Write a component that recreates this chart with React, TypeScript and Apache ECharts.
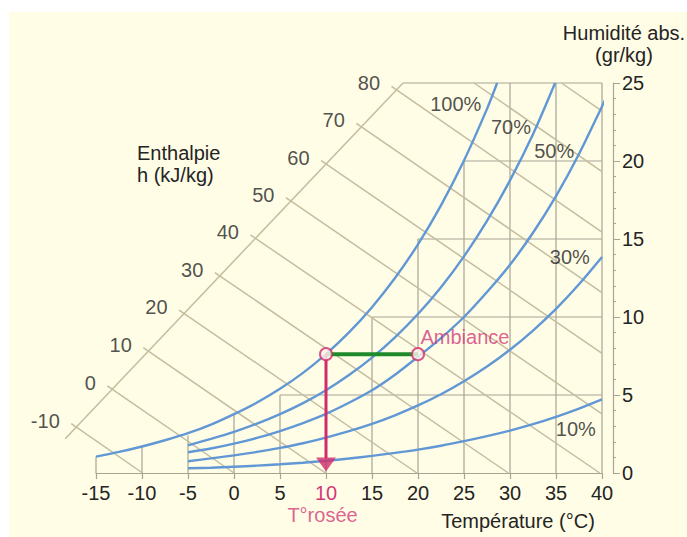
import React, { useEffect, useRef } from 'react';
import * as echarts from 'echarts';

const FONT = '"Liberation Sans", Arial, Helvetica, sans-serif';

// Temperature ticks (°C) and absolute humidity ticks (g/kg)
const tempTicks = [-15, -10, -5, 0, 5, 10, 15, 20, 25, 30, 35, 40];
const humTicks = [0, 5, 10, 15, 20, 25];

// Relative humidity curves, [temperature °C, absolute humidity g/kg]
const rh100: [number, number][] = [
  [-15, 1.05], [-12.5, 1.35], [-10, 1.7], [-7.5, 2.1], [-5, 2.55], [-2.5, 3.1], [0, 3.77],
  [2.5, 4.52], [5, 5.4], [7.5, 6.42], [10, 7.62], [12.5, 9.01], [15, 10.63], [17.5, 12.5],
  [20, 14.66], [22.5, 17.16], [25, 20.03], [27.5, 23.34], [28.6, 25],
];
const rh70: [number, number][] = [
  [-5, 1.77], [-2.5, 2.19], [0, 2.64], [2.5, 3.16], [5, 3.77], [7.5, 4.48], [10, 5.31],
  [12.5, 6.28], [15, 7.4], [17.5, 8.7], [20, 10.19], [22.5, 11.91], [25, 13.89], [27.5, 16.16],
  [30, 18.76], [32.5, 21.72], [34.9, 25],
];
const rh50: [number, number][] = [
  [-5, 1.33], [-2.5, 1.57], [0, 1.88], [2.5, 2.25], [5, 2.69], [7.5, 3.2], [10, 3.79],
  [12.5, 4.5], [15, 5.3], [17.5, 6.3], [20, 7.45], [22.5, 8.65], [25, 10.0], [27.5, 11.6],
  [30, 13.35], [32.5, 15.4], [35, 17.75], [37.5, 20.45], [40, 23.5], [40.4, 24.0],
];
const rh30: [number, number][] = [
  [-5, 0.75], [-2.5, 0.94], [0, 1.13], [2.5, 1.35], [5, 1.61], [7.5, 1.91], [10, 2.27],
  [12.5, 2.68], [15, 3.15], [17.5, 3.7], [20, 4.33], [22.5, 5.05], [25, 5.88], [27.5, 6.82],
  [30, 7.9], [32.5, 9.13], [35, 10.52], [37.5, 12.1], [40, 13.85],
];
const rh10: [number, number][] = [
  [-5, 0.3], [-2.5, 0.34], [0, 0.4], [2.5, 0.47], [5, 0.56], [7.5, 0.66], [10, 0.78],
  [12.5, 0.93], [15, 1.1], [17.5, 1.29], [20, 1.5], [22.5, 1.75], [25, 2.04], [27.5, 2.36],
  [30, 2.72], [32.5, 3.13], [35, 3.6], [37.5, 4.13], [40, 4.72],
];

// Curve labels
const rhNames = ['100%', '70%', '50%', '30%', '10%'];
const rhLabelT = [24.1, 30.1, 34.8, 36.5, 37.15];
const rhLabelW = [23.65, 22.2, 20.65, 13.87, 2.81];

// Enthalpy lines (kJ/kg)
const enthH = [-10, 0, 10, 20, 30, 40, 50, 60, 70, 80, 90, 100];
const enthStartT = [-17.69, -13.77, -9.86, -5.97, -2.08, 1.79, 5.64, 9.47, 13.3, 17.12, 26.1, 35.6];
const enthStartW = [3.16, 5.59, 8.03, 10.44, 12.85, 15.26, 17.65, 20.03, 22.41, 24.78, 25, 25];
const enthEndT = [-9.94, 0, 9.94, 19.88, 29.82, 39.76, 40, 40, 40, 40, 40, 40];
const enthEndW = [0, 0, 0, 0, 0, 0, 3.79, 7.67, 11.56, 15.44, 19.32, 23.2];
const enthLabelled = [true, true, true, true, true, true, true, true, true, true, false, false];
// Enthalpy axis (diagonal)
const enthAxisT = [-18.35, 18.37];
const enthAxisW = [2.2, 25];

// Grid lines, clipped by saturation
const gridVT = [-15, -10, -5, 0, 5, 10, 15, 20, 25, 30, 35, 40];
const gridVTop = [1.05, 1.7, 2.4, 3.77, 5, 7.62, 10, 15, 20, 25, 25, 25];
const gridHW = [5, 10, 15, 20, 25];
const gridHStart = [5, 15, 20, 25, 18.37];

// Dew point construction
const ambianceT = 20;
const dewT = 10;
const pointW = 7.62;
const arrowW = 0.55;
const arrowLineEndW = 0.96;
const ambianceLabel = { text: 'Ambiance', t: 25.1, w: 8.74 };
const dewLabel = { text: 'T°rosée', t: 9.62, w: -2.72 };

const GRID_COLOR = '#a7a493';
const ENTH_COLOR = '#c4bd9f';
const BLUE = '#6097d4';
const MAGENTA = '#cf2c6c';
const GREEN = '#1f8a2c';
const TEXT = '#242424';

export default function App() {
  const ref = useRef<HTMLDivElement>(null);

  useEffect(() => {
    if (!ref.current) return;
    const chart = echarts.init(ref.current, null, { renderer: 'svg' });

    const line = (data: any[], color: string, width: number, z: number, smooth: any = false) => ({
      type: 'line',
      data,
      symbol: 'none',
      showSymbol: false,
      smooth,
      clip: false,
      silent: true,
      z,
      lineStyle: { color, width },
      emphasis: { disabled: true },
    });

    const segments = (rows: number[][], color: string, width: number, z: number) => ({
      type: 'custom',
      clip: false,
      silent: true,
      z,
      dimensions: ['t1', 'w1', 't2', 'w2'],
      encode: { x: [0, 2], y: [1, 3] },
      data: rows,
      renderItem: (_params: any, api: any) => {
        const p1 = api.coord([api.value(0), api.value(1)]);
        const p2 = api.coord([api.value(2), api.value(3)]);
        return {
          type: 'line',
          shape: { x1: p1[0], y1: p1[1], x2: p2[0], y2: p2[1] },
          style: { stroke: color, lineWidth: width },
        };
      },
    });

    const series: any[] = [];

    // grid lines
    series.push(
      segments(
        [
          ...gridVT.map((t, i) => [t, 0, t, gridVTop[i]]),
          ...gridHW.map((w, i) => [gridHStart[i], w, 40, w]),
        ],
        GRID_COLOR,
        1.2,
        1
      )
    );
    // enthalpy axis + lines
    series.push(
      segments(
        [
          [enthAxisT[0], enthAxisW[0], enthAxisT[1], enthAxisW[1]],
          ...enthH.map((_h, i) => [enthStartT[i], enthStartW[i], enthEndT[i], enthEndW[i]]),
        ],
        ENTH_COLOR,
        1.5,
        1
      )
    );
    // enthalpy labels
    series.push({
      type: 'scatter',
      clip: false,
      silent: true,
      z: 6,
      symbolSize: 1,
      itemStyle: { color: 'rgba(0,0,0,0)' },
      data: enthH
        .map((h, i) => ({ name: String(h), value: [enthStartT[i], enthStartW[i]], keep: enthLabelled[i] }))
        .filter((d) => d.keep)
        .map((d) => ({ name: d.name, value: d.value })),
      label: {
        show: true,
        position: 'left',
        distance: 11,
        offset: [0, -3],
        formatter: '{b}',
        color: TEXT,
        fontSize: 20,
        fontFamily: FONT,
      },
    });

    // RH curves
    [rh100, rh70, rh50, rh30, rh10].forEach((c) => {
      series.push(line(c, BLUE, 2.4, 3, 0.3));
    });
    // RH labels
    series.push({
      type: 'scatter',
      clip: false,
      silent: true,
      z: 6,
      symbolSize: 1,
      itemStyle: { color: 'rgba(0,0,0,0)' },
      data: rhNames.map((n, i) => ({ name: n, value: [rhLabelT[i], rhLabelW[i]] })),
      label: { show: true, position: 'inside', formatter: '{b}', color: TEXT, fontSize: 20, fontFamily: FONT },
    });

    // dew point construction
    series.push(line([[dewT, pointW], [ambianceT, pointW]], GREEN, 4, 4));
    series.push(line([[dewT, pointW], [dewT, arrowLineEndW]], MAGENTA, 3, 4));
    series.push({
      type: 'scatter',
      clip: false,
      silent: true,
      z: 5,
      symbol: 'triangle',
      symbolRotate: 180,
      symbolSize: [20, 14],
      itemStyle: { color: MAGENTA },
      data: [[dewT, arrowW]],
    });
    series.push({
      type: 'scatter',
      clip: false,
      silent: true,
      z: 6,
      symbol: 'circle',
      symbolSize: 12,
      itemStyle: { color: '#fff8ee', borderColor: MAGENTA, borderWidth: 2 },
      data: [[dewT, pointW], [ambianceT, pointW]],
    });
    series.push({
      type: 'scatter',
      clip: false,
      silent: true,
      z: 6,
      symbolSize: 1,
      itemStyle: { color: 'rgba(0,0,0,0)' },
      data: [
        { name: ambianceLabel.text, value: [ambianceLabel.t, ambianceLabel.w] },
        { name: dewLabel.text, value: [dewLabel.t, dewLabel.w] },
      ],
      label: { show: true, position: 'inside', formatter: '{b}', color: '#d4387a', fontSize: 20, fontFamily: FONT },
    });

    const option: any = {
      animation: false,
      backgroundColor: 'transparent',
      textStyle: { fontFamily: FONT },
      grid: { left: 96, right: 85, top: 83, bottom: 64, containLabel: false },
      xAxis: {
        type: 'value',
        min: tempTicks[0],
        max: tempTicks[tempTicks.length - 1],
        interval: 5,
        axisLine: { show: true, onZero: false, lineStyle: { color: GRID_COLOR, width: 1.2 } },
        axisTick: { show: true, length: 6, lineStyle: { color: GRID_COLOR, width: 1.2 } },
        splitLine: { show: false },
        axisLabel: {
          fontSize: 20,
          margin: 10,
          fontFamily: FONT,
          color: (v: any) => (Number(v) === dewT ? '#d4387a' : TEXT),
        },
      },
      yAxis: {
        type: 'value',
        position: 'right',
        offset: 11,
        min: humTicks[0],
        max: humTicks[humTicks.length - 1],
        interval: 5,
        axisLine: { show: true, onZero: false, lineStyle: { color: GRID_COLOR, width: 1.2 } },
        axisTick: { show: true, length: 7, lineStyle: { color: GRID_COLOR } },
        minorTick: { show: true, splitNumber: 5, length: 3, lineStyle: { color: GRID_COLOR } },
        splitLine: { show: false },
        axisLabel: { fontSize: 20, margin: 9, color: TEXT, fontFamily: FONT },
      },
      graphic: [
        {
          type: 'rect',
          z: -100,
          silent: true,
          shape: { x: 9, y: 12, width: 678, height: 525 },
          style: { fill: '#fffde6' },
        },
        {
          type: 'text',
          x: 137,
          y: 142,
          silent: true,
          style: {
            text: 'Enthalpie\nh (kJ/kg)',
            font: `20px ${FONT}`,
            fill: TEXT,
            align: 'left',
            verticalAlign: 'top',
            lineHeight: 22,
          },
        },
        {
          type: 'text',
          x: 624,
          y: 22,
          silent: true,
          style: {
            text: 'Humidité abs.\n(gr/kg)',
            font: `20px ${FONT}`,
            fill: TEXT,
            align: 'center',
            verticalAlign: 'top',
            lineHeight: 22,
          },
        },
        {
          type: 'text',
          x: 518,
          y: 521,
          silent: true,
          style: {
            text: 'Température (°C)',
            font: `20px ${FONT}`,
            fill: TEXT,
            align: 'center',
            verticalAlign: 'middle',
          },
        },
      ],
      series,
    };

    chart.setOption(option);
    return () => chart.dispose();
  }, []);

  return (
    <div
      ref={ref}
      style={{ position: 'fixed', left: 0, top: 0, width: 687, height: 537, background: '#ffffff' }}
    />
  );
}
